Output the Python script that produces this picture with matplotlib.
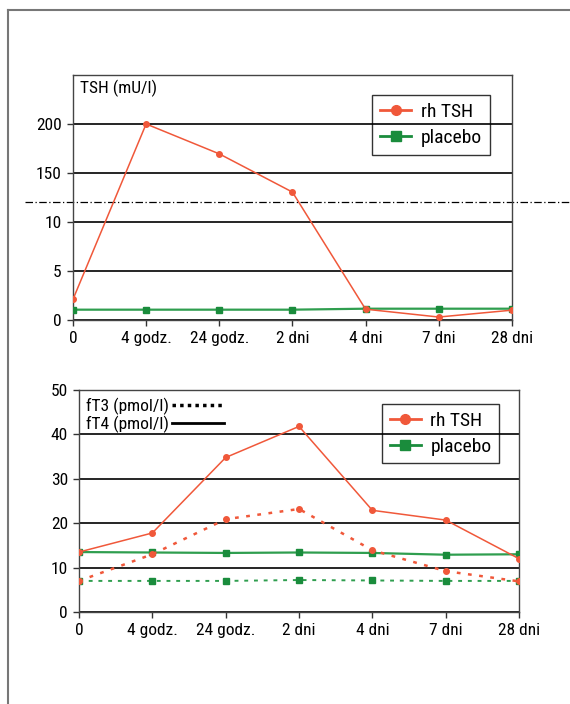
import numpy as np
import matplotlib
matplotlib.use('Agg')
import matplotlib.pyplot as plt
from matplotlib.lines import Line2D
from matplotlib.transforms import blended_transform_factory

plt.rcParams['font.family'] = ['Roboto Condensed', 'Liberation Sans Narrow',
                               'Liberation Sans', 'DejaVu Sans']

times = ['0', '4 godz.', '24 godz.', '2 dni', '4 dni', '7 dni', '28 dni']

# TSH (mU/l)
tsh_rh = [2.1, 200, 169.5, 130.5, 1.1, 0.3, 1.0]
tsh_placebo = [1.05, 1.05, 1.05, 1.05, 1.15, 1.15, 1.15]

# fT4 / fT3 (pmol/l)
ft4_rh = [13.5, 17.8, 34.8, 41.8, 22.9, 20.7, 12.0]
ft3_rh = [7.0, 13.0, 20.9, 23.2, 13.9, 9.2, 6.9]
ft4_placebo = [13.5, 13.4, 13.3, 13.4, 13.3, 12.9, 13.0]
ft3_placebo = [7.0, 7.0, 7.0, 7.2, 7.1, 7.0, 7.0]

RED = '#f0583a'
GREEN = '#2f9e4f'
GREEN_M = '#1a8c3c'

# broken y axis for TSH: 0-12 linear, then 120-250 compressed
XP = [-100, 12, 120, 1000]
FP = [-100, 12, 12.001, 100.001]


def fwd(v):
    return np.interp(v, XP, FP)


def inv(u):
    return np.interp(u, FP, XP)


fig = plt.figure(figsize=(5.7, 7.04), dpi=100)
x = np.arange(len(times))
FS = 12.5


def style(ax):
    for s in ax.spines.values():
        s.set_color('#444444')
        s.set_linewidth(1.0)
    ax.tick_params(direction='out', length=4, width=1, color='#333333',
                   labelsize=FS, pad=4)
    ax.yaxis.grid(True, color='black', lw=1.2)
    ax.set_axisbelow(True)
    ax.set_xlim(0, len(times) - 1)
    ax.set_xticks(x)
    ax.set_xticklabels(times)


def main_legend(ax, anchor):
    leg = ax.legend([Line2D([], [], color=RED, marker='o', ms=7, lw=2),
                     Line2D([], [], color=GREEN_M, marker='s', ms=7, lw=2)],
                    ['rh TSH', 'placebo'], loc='upper left',
                    bbox_to_anchor=anchor, borderaxespad=0, fancybox=False,
                    edgecolor='black', facecolor='none', fontsize=14,
                    handlelength=1.6, labelspacing=0.4, borderpad=0.4,
                    handletextpad=0.5)
    leg.get_frame().set_linewidth(1.0)
    return leg


# top panel
ax = fig.add_axes([0.128, 0.5455, 0.770, 0.348])
ax.set_yscale('function', functions=(fwd, inv))
ax.set_ylim(0, 250)
ax.set_yticks([0, 5, 10, 150, 200])
ax.set_yticklabels(['0', '5', '10', '150', '200'])
style(ax)
ax.plot(x, tsh_placebo, '-s', color=GREEN, mfc=GREEN_M, mec=GREEN_M, ms=5, lw=1.6,
        zorder=3)
ax.plot(x, tsh_rh, '-o', color=RED, ms=4, lw=1.1, zorder=4)
main_legend(ax, (0.682, 0.917))
ax.text(0.016, 0.947, 'TSH (mU/l)', transform=ax.transAxes, fontsize=FS,
        ha='left', va='center')
tr = blended_transform_factory(fig.transFigure, ax.transData)
ax.plot([0.044, 1.0], [12.1, 12.1], transform=tr, color='black', lw=0.9,
        ls=(0, (6, 2, 1, 2)), clip_on=False)

# bottom panel
ax = fig.add_axes([0.1386, 0.1307, 0.772, 0.3153])
ax.set_ylim(0, 50)
ax.set_yticks(np.arange(0, 51, 10))
style(ax)
ax.plot(x, ft4_placebo, '-s', color=GREEN, mfc=GREEN_M, mec=GREEN_M, ms=5, lw=1.6,
        zorder=3)
ax.plot(x, ft3_placebo, 's', ls=(0, (2, 3)), color=GREEN, mfc=GREEN_M,
        mec=GREEN_M, ms=5, lw=1.4, zorder=3)
ax.plot(x, ft4_rh, '-o', color=RED, ms=4, lw=1.1, zorder=4)
ax.plot(x, ft3_rh, 'o', ls=(0, (1.5, 3)), color=RED, ms=4, lw=1.8, zorder=4)
leg = main_legend(ax, (0.688, 0.937))
ax.add_artist(leg)
ax.legend([Line2D([], [], color='black', lw=2.5, ls=(0, (1, 1.2))),
           Line2D([], [], color='black', lw=2)],
          ['fT3 (pmol/l)', 'fT4 (pmol/l)'], loc='upper left',
          bbox_to_anchor=(-0.012, 1.02), frameon=False, markerfirst=False,
          fontsize=FS, handlelength=3.0, handletextpad=0.2,
          labelspacing=0.05, borderaxespad=0.3)

# page frame
fig.add_artist(Line2D([0.014, 1.0], [0.9858, 0.9858], color='#777777', lw=1.5))
fig.add_artist(Line2D([0.014, 0.014], [0.0, 0.9858], color='#777777', lw=1.5))

fig.savefig('out.png', dpi=100)
